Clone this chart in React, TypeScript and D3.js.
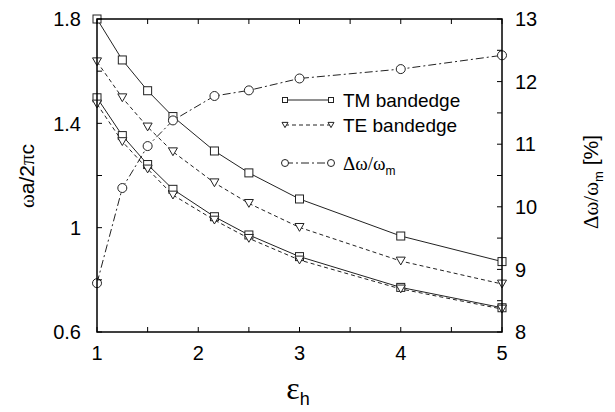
import * as d3 from 'd3';

// permittivity of holes
const eps = [1, 1.25, 1.5, 1.75, 2.16, 2.5, 3, 4, 5];

// normalised frequency, left axis
const tmUpper = [1.8, 1.643, 1.525, 1.426, 1.294, 1.21, 1.11, 0.968, 0.87];
const teUpper = [1.636, 1.498, 1.386, 1.291, 1.172, 1.093, 1.001, 0.872, 0.784];
const tmLower = [1.498, 1.353, 1.242, 1.147, 1.042, 0.972, 0.889, 0.771, 0.693];
const teLower = [1.474, 1.33, 1.225, 1.125, 1.029, 0.959, 0.876, 0.765, 0.688];

// gap width in percent, right axis
const gapRatio = [8.78, 10.3, 10.97, 11.38, 11.77, 11.86, 12.05, 12.2, 12.42];

const xTicks = [1, 2, 3, 4, 5];
const xMinor = [1.5, 2.5, 3.5, 4.5];
const yLeftTicks = [0.6, 1, 1.4, 1.8];
const yLeftMinor = [0.8, 1.2, 1.6];
const yRightTicks = [8, 9, 10, 11, 12, 13];
const yRightMinor = [8.5, 9.5, 10.5, 11.5, 12.5];

const W = 615;
const H = 412;
const left = 97;
const right = 502;
const top = 19;
const bottom = 332;

const sans = 'Liberation Sans, Arial, Helvetica, sans-serif';
const greek = 'Liberation Serif, Times New Roman, serif';
const ink = '#222';

function Square({ x, y, s }) {
  return <rect x={x - s / 2} y={y - s / 2} width={s} height={s} fill="white" stroke={ink} strokeWidth={1} />;
}

function Triangle({ x, y, s }) {
  const h = s * 0.87;
  const d = `M${x - s / 2},${y - h / 2}L${x + s / 2},${y - h / 2}L${x},${y + h / 2}Z`;
  return <path d={d} fill="white" stroke={ink} strokeWidth={1} />;
}

function Circle({ x, y, s }) {
  return <circle cx={x} cy={y} r={s / 2} fill="white" stroke={ink} strokeWidth={1} />;
}

export default function App() {
  const x = d3.scaleLinear().domain([1, 5]).range([left, right]);
  const yL = d3.scaleLinear().domain([0.6, 1.8]).range([bottom, top]);
  const yR = d3.scaleLinear().domain([8, 13]).range([bottom, top]);

  const lineL = d3.line<number>().x((_, i) => x(eps[i])).y((d) => yL(d));
  const lineR = d3.line<number>().x((_, i) => x(eps[i])).y((d) => yR(d));

  const series = [
    { values: tmUpper, line: lineL, y: yL, dash: null, Marker: Square, size: 8 },
    { values: tmLower, line: lineL, y: yL, dash: null, Marker: Square, size: 8 },
    { values: teUpper, line: lineL, y: yL, dash: '4,3', Marker: Triangle, size: 9 },
    { values: teLower, line: lineL, y: yL, dash: '4,3', Marker: Triangle, size: 9 },
    { values: gapRatio, line: lineR, y: yR, dash: '8,3,2,3', Marker: Circle, size: 9 },
  ];

  const legend = [
    { label: 'TM bandedge', dash: null, Marker: Square, size: 5, y: 100 },
    { label: 'TE bandedge', dash: '4,3', Marker: Triangle, size: 6, y: 125 },
    { label: 'gap', dash: '8,3,2,3', Marker: Circle, size: 7, y: 163 },
  ];

  const tick = 5;

  return (
    <svg width={W} height={H} style={{ position: 'absolute', left: 0, top: 0, background: 'white' }}>
      {/* series */}
      {series.map((s, k) => (
        <g key={k}>
          <path d={s.line(s.values)} fill="none" stroke={ink} strokeWidth={1} strokeDasharray={s.dash ?? undefined} />
          {s.values.map((v, i) => (
            <s.Marker key={i} x={x(eps[i])} y={s.y(v)} s={s.size} />
          ))}
        </g>
      ))}

      {/* frame */}
      <rect x={left} y={top} width={right - left} height={bottom - top} fill="none" stroke="black" strokeWidth={1.5} />

      {/* x ticks, bottom and top */}
      {[...xTicks, ...xMinor].map((t) => (
        <g key={`x${t}`} stroke="black" strokeWidth={1}>
          <line x1={x(t)} x2={x(t)} y1={bottom} y2={bottom - tick} />
          <line x1={x(t)} x2={x(t)} y1={top} y2={top + tick} />
        </g>
      ))}
      {xTicks.map((t) => (
        <text key={`xl${t}`} x={x(t)} y={360} textAnchor="middle" fontFamily={sans} fontSize={20}>
          {t}
        </text>
      ))}

      {/* left axis */}
      {[...yLeftTicks, ...yLeftMinor].map((t) => (
        <line key={`yl${t}`} x1={left} x2={left + tick} y1={yL(t)} y2={yL(t)} stroke="black" strokeWidth={1} />
      ))}
      {yLeftTicks.map((t) => (
        <text key={`yll${t}`} x={81} y={yL(t)} dy="0.36em" textAnchor="end" fontFamily={sans} fontSize={20}>
          {t}
        </text>
      ))}

      {/* right axis */}
      {[...yRightTicks, ...yRightMinor].map((t) => (
        <line key={`yr${t}`} x1={right} x2={right - tick} y1={yR(t)} y2={yR(t)} stroke="black" strokeWidth={1} />
      ))}
      {yRightTicks.map((t) => (
        <text key={`yrl${t}`} x={515} y={yR(t)} dy="0.36em" textAnchor="start" fontFamily={sans} fontSize={20}>
          {t}
        </text>
      ))}

      {/* legend */}
      {legend.map((l) => (
        <g key={l.label}>
          <line x1={285} x2={331} y1={l.y} y2={l.y} stroke={ink} strokeWidth={1} strokeDasharray={l.dash ?? undefined} />
          <l.Marker x={285} y={l.y} s={l.size} />
          <l.Marker x={331} y={l.y} s={l.size} />
          {l.label === 'gap' ? (
            <text x={343} y={l.y} dy="0.36em" fontFamily={greek} fontSize={19}>
              Δω/ω<tspan fontFamily={sans} fontSize={12} dy={5}>m</tspan>
            </text>
          ) : (
            <text x={343} y={l.y} dy="0.36em" fontFamily={sans} fontSize={19}>
              {l.label}
            </text>
          )}
        </g>
      ))}

      {/* axis titles */}
      <text transform={`translate(34,176) rotate(-90)`} textAnchor="middle" fontFamily={sans} fontSize={21}>
        <tspan fontFamily={greek}>ω</tspan>a/2<tspan fontFamily={greek}>π</tspan>c
      </text>
      <text transform={`translate(598,182) rotate(-90)`} textAnchor="middle" fontFamily={sans} fontSize={21}>
        <tspan fontFamily={greek}>Δω/ω</tspan>
        <tspan fontSize={13} dy={5}>m</tspan>
        <tspan dy={-5}> [%]</tspan>
      </text>
      <text x={298} y={399} textAnchor="middle" fontFamily={greek} fontSize={32}>
        ε<tspan fontFamily={sans} fontSize={18} dy={6}>h</tspan>
      </text>
    </svg>
  );
}
